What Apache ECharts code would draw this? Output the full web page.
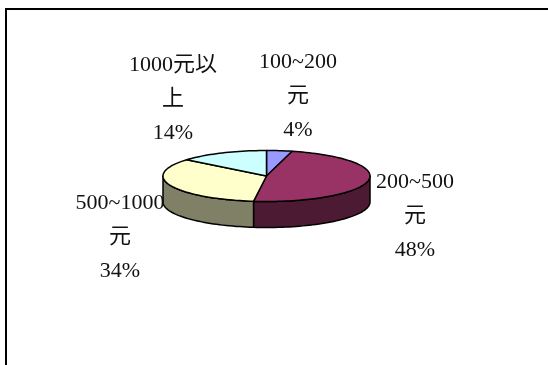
<!DOCTYPE html>
<html>
<head>
<meta charset="utf-8">
<script src="https://cdn.jsdelivr.net/npm/echarts@6/dist/echarts.min.js"></script>
<style>html,body{margin:0;padding:0;background:#fff}#c{width:548px;height:365px}</style>
</head>
<body>
<div id="c"></div>
<script>
const categories = ['100~200元', '200~500元', '500~1000元', '1000元以上'];
const values = [4, 48, 34, 14];
const topColors = ['#9999ff', '#993366', '#ffffcc', '#ccffff'];
const sideColors = ['#4d4d80', '#4d1a33', '#808066', '#668080'];

const total = values.reduce((a, b) => a + b, 0);
const starts = [];
let acc = 0;
values.forEach(v => { starts.push(acc); acc += v; });

const CX = 266.5, CY = 176, RX = 103.5, RY = 25.5, DEPTH = 26;
const deg = d => d * Math.PI / 180;
const pt = (t, dy) => [CX + RX * Math.sin(deg(t)), CY - RY * Math.cos(deg(t)) + (dy || 0)];
function arc(a, b, dy) {
  const pts = [];
  const n = Math.max(2, Math.ceil(Math.abs(b - a) / 2));
  for (let i = 0; i <= n; i++) pts.push(pt(a + (b - a) * i / n, dy));
  return pts;
}
function angles(i) {
  return [starts[i] / total * 360, (starts[i] + values[i]) / total * 360];
}

function renderSide(params, api) {
  const i = params.dataIndex;
  const [a, b] = angles(i);
  const s = Math.max(a, 90), e = Math.min(b, 270);
  if (s >= e) return null;
  const pts = arc(s, e, 0).concat(arc(e, s, DEPTH));
  return {
    type: 'polygon',
    shape: { points: pts },
    style: { fill: sideColors[i], stroke: '#000', lineWidth: 1.5, lineJoin: 'round' }
  };
}
function renderTop(params, api) {
  const i = params.dataIndex;
  const [a, b] = angles(i);
  const pts = [[CX, CY]].concat(arc(a, b, 0));
  return {
    type: 'polygon',
    shape: { points: pts },
    style: { fill: topColors[i], stroke: '#000', lineWidth: 1.5, lineJoin: 'round' }
  };
}

function wrapName(name) {
  if (name.endsWith('以上')) return name.slice(0, -1) + '\n' + name.slice(-1);
  return name.replace('元', '\n元');
}
const labelPos = [[298, 45], [415, 165], [120, 186], [173, 48]];
const font = '"Liberation Serif", "Noto Sans CJK TC", serif';
const labels = categories.map((c, i) => ({
  type: 'text',
  x: labelPos[i][0],
  y: labelPos[i][1],
  style: {
    text: wrapName(c) + '\n' + Math.round(values[i] / total * 100) + '%',
    fontFamily: font,
    fontSize: 22,
    lineHeight: 34,
    fill: '#111',
    align: 'center',
    verticalAlign: 'top'
  },
  z: 10
}));

const chart = echarts.init(document.getElementById('c'), null, { renderer: 'canvas' });
chart.setOption({
  animation: false,
  backgroundColor: '#fff',
  graphic: [
    { type: 'rect', shape: { x: 6, y: 9, width: 700, height: 500 }, style: { fill: 'none', stroke: '#000', lineWidth: 2 }, z: 0 }
  ].concat(labels),
  series: [
    { type: 'custom', coordinateSystem: 'none', name: 'side', data: values, renderItem: renderSide, z: 2, silent: true },
    { type: 'custom', coordinateSystem: 'none', name: 'top', data: values, renderItem: renderTop, z: 3, silent: true }
  ]
});
</script>
</body>
</html>
